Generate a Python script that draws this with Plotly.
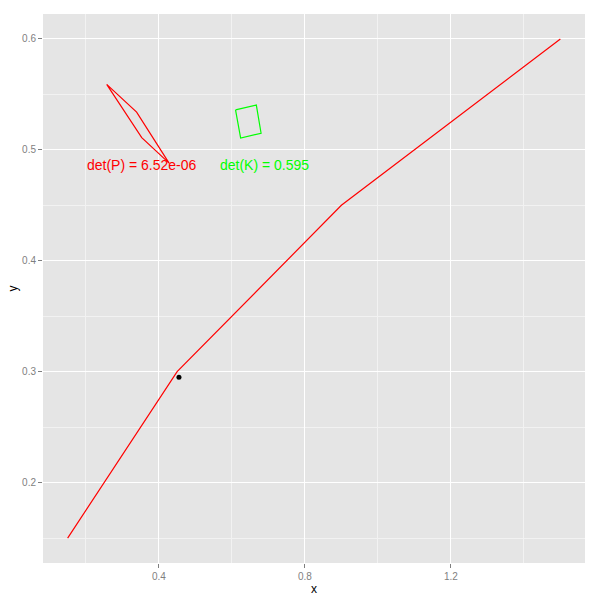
import plotly.graph_objects as go

line_x = [0.15, 0.45, 0.9, 1.5]
line_y = [0.15, 0.30, 0.45, 0.60]
pt_x = [0.455]
pt_y = [0.295]
P_x = [0.257, 0.339, 0.428, 0.353, 0.257]
P_y = [0.559, 0.534, 0.488, 0.511, 0.559]
K_x = [0.610, 0.667, 0.680, 0.624, 0.610]
K_y = [0.536, 0.5404, 0.515, 0.5107, 0.536]
labels = ["det(P) = 6.52e-06", "det(K) = 0.595"]
label_x = [0.355, 0.69]
label_y = [0.486, 0.486]
label_colors = ["#FF0000", "#00FF00"]

fig = go.Figure()
fig.add_trace(go.Scatter(x=line_x, y=line_y, mode="lines", line=dict(color="#FF0000", width=1.2)))
fig.add_trace(go.Scatter(x=P_x, y=P_y, mode="lines", line=dict(color="#FF0000", width=1.2)))
fig.add_trace(go.Scatter(x=K_x, y=K_y, mode="lines", line=dict(color="#00FF00", width=1.2)))
fig.add_trace(go.Scatter(x=pt_x, y=pt_y, mode="markers", marker=dict(color="black", size=5)))
for t, xx, yy, c in zip(labels, label_x, label_y, label_colors):
    fig.add_annotation(x=xx, y=yy, text=t, showarrow=False,
                       font=dict(family="Liberation Sans, Arial", size=14, color=c),
                       xanchor="center", yanchor="middle")

axis_common = dict(showgrid=True, gridcolor="white", gridwidth=1.2,
                   zeroline=False, ticks="outside", ticklen=4, tickcolor="#7F7F7F",
                   tickfont=dict(family="Liberation Sans, Arial", size=10, color="#7F7F7F"),
                   minor=dict(showgrid=True, gridcolor="#F2F2F2", gridwidth=0.6),
                   showline=False, automargin=False)
fig.update_xaxes(range=[0.0825, 1.5675], tickvals=[0.4, 0.8, 1.2],
                 minor_tickvals=[0.2, 0.6, 1.0, 1.4],
                 title=dict(text="x", font=dict(family="Liberation Sans, Arial", size=12, color="black"), standoff=1),
                 **axis_common)
fig.update_yaxes(range=[0.1275, 0.6225], tickvals=[0.2, 0.3, 0.4, 0.5, 0.6],
                 minor_tickvals=[0.15, 0.25, 0.35, 0.45, 0.55],
                 title=dict(text="y", font=dict(family="Liberation Sans, Arial", size=12, color="black"), standoff=1),
                 **axis_common)
fig.update_layout(width=600, height=600, showlegend=False,
                  plot_bgcolor="#E5E5E5", paper_bgcolor="white",
                  margin=dict(l=43, r=15, t=14, b=37))
fig.write_html("out.html", config={"displayModeBar": False},
               post_script="document.body.style.margin='0';document.body.style.overflow='hidden';")
